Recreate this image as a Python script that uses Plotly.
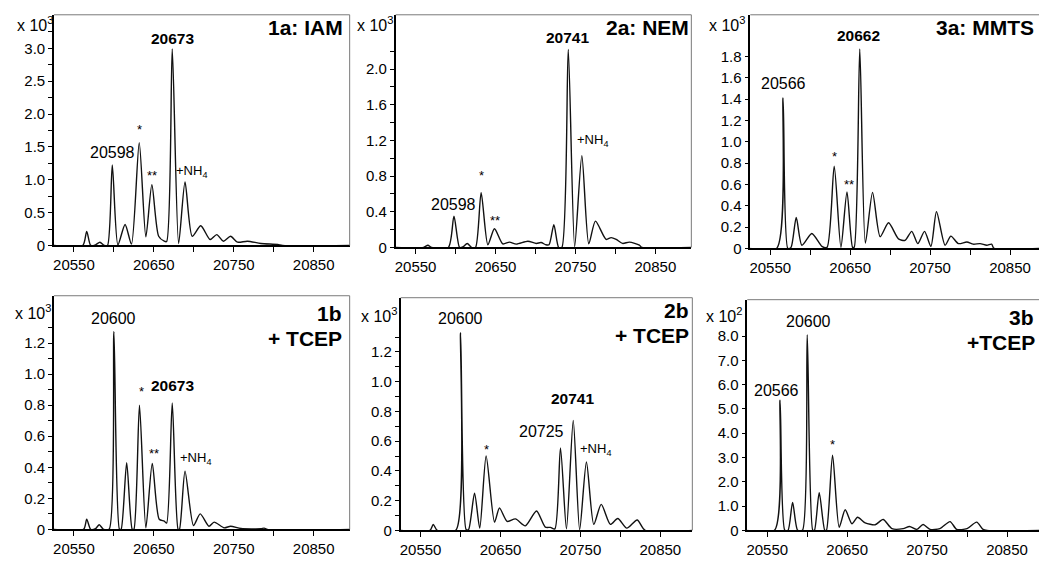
import plotly.graph_objects as go

W, H = 1039, 563
FONT = "Liberation Sans, Arial, sans-serif"

# ---------------------------------------------------------------- spectra
# deconvoluted mass (Da) and intensity (in units of the panel multiplier)
mass_1a = [20525, 20561, 20566, 20571, 20577, 20582.5, 20588, 20592, 20598, 20605,
           20614, 20622, 20631.7, 20640, 20647.5, 20656, 20663, 20666, 20673, 20681,
           20689, 20698, 20708.7, 20720.4, 20728.7, 20737, 20746, 20754.6, 20767,
           20784, 20805, 20811, 20895]
int_1a = [0, 0, 0.215, 0.0, 0.01, 0.05, 0.0, 0.0, 1.225, 0.01,
          0.32, 0.02, 1.565, 0.13, 0.925, 0.14, 0.065, 0.06, 2.99, 0.03,
          0.965, 0.14, 0.30, 0.09, 0.165, 0.065, 0.14, 0.05, 0.065,
          0.03, 0.015, 0.0, 0]

mass_2a = [20525, 20560, 20565.4, 20570, 20591, 20598, 20605, 20609, 20614.6, 20620,
           20625, 20632, 20640.4, 20648.7, 20659, 20667.5, 20676, 20690.4, 20701, 20707,
           20713, 20717, 20723, 20729, 20733, 20741, 20749, 20758, 20766.7, 20775,
           20788.4, 20794.6, 20801, 20809, 20817.5, 20830, 20833, 20895]
int_2a = [0, 0, 0.025, 0, 0, 0.35, 0, 0.005, 0.045, 0,
          0, 0.615, 0.03, 0.21, 0.04, 0.06, 0.037, 0.07, 0.045, 0.055,
          0.03, 0.03, 0.255, 0.0, 0.0, 2.22, 0.01, 1.03, 0.04, 0.295,
          0.09, 0.11, 0.09, 0.045, 0.06, 0.025, 0, 0]

mass_3a = [20525, 20558, 20566, 20572, 20576, 20582.5, 20589.6, 20602, 20614.6, 20621,
           20630, 20638.4, 20646, 20653, 20655, 20662, 20669, 20678, 20687.5, 20698,
           20710.4, 20718.7, 20727, 20734.6, 20743, 20751, 20758, 20768.7, 20776, 20785.4,
           20796, 20804, 20812.5, 20821, 20827, 20830, 20890]
int_3a = [0, 0, 1.41, 0, 0.01, 0.29, 0.03, 0.14, 0.02, 0.01,
          0.77, 0.01, 0.53, 0.01, 0.01, 1.87, 0.05, 0.525, 0.11, 0.24,
          0.09, 0.075, 0.16, 0.045, 0.16, 0.02, 0.345, 0.03, 0.115, 0.045,
          0.06, 0.04, 0.045, 0.03, 0.04, 0, 0]

mass_1b = [20525, 20562, 20566, 20571, 20577, 20581.7, 20587, 20594, 20600, 20607,
           20609, 20616, 20623, 20625, 20632, 20640, 20648, 20656.7, 20663, 20666,
           20673, 20680.4, 20682, 20689, 20699.6, 20708, 20719, 20725.4, 20738, 20746,
           20759, 20784, 20788, 20792, 20895]
int_1b = [0, 0, 0.065, 0, 0.005, 0.03, 0, 0, 1.275, 0,
          0, 0.43, 0, 0, 0.80, 0.01, 0.425, 0.065, 0.053, 0.04,
          0.815, 0, 0, 0.375, 0.025, 0.10, 0.02, 0.047, 0.01, 0.02,
          0.006, 0.004, 0.008, 0, 0]

mass_2b = [20525, 20561.7, 20565.8, 20570.8, 20594, 20600, 20607, 20610, 20617.5, 20624,
           20632, 20642.5, 20648.7, 20658.4, 20668.7, 20681, 20695, 20706, 20712.5, 20718,
           20725, 20732.5, 20741, 20749, 20757.5, 20766.7, 20776, 20787.5, 20796.7, 20808,
           20821, 20831, 20890]
int_2b = [0, 0, 0.04, 0, 0, 1.33, 0.005, 0.005, 0.25, 0.015,
          0.50, 0.055, 0.15, 0.06, 0.077, 0.03, 0.13, 0.022, 0.02, 0.01,
          0.555, 0.01, 0.74, 0.004, 0.46, 0.04, 0.175, 0.04, 0.08, 0.015,
          0.07, 0, 0]

mass_3b = [20525, 20559, 20566, 20572, 20576, 20581.7, 20588, 20594, 20600, 20607,
           20609, 20615, 20622, 20624, 20631.7, 20640, 20647.5, 20656, 20663, 20672.5,
           20685, 20695, 20706, 20720, 20728, 20737, 20745, 20753.7, 20766, 20778.7,
           20787, 20800, 20812, 20820, 20825, 20890]
int_3b = [0, 0, 5.36, 0, 0, 1.15, 0, 0, 8.06, 0,
          0, 1.55, 0, 0, 3.1, 0.13, 0.85, 0.27, 0.54, 0.31,
          0.23, 0.45, 0.07, 0.07, 0.16, 0.04, 0.24, 0.04, 0.07, 0.36,
          0.04, 0.07, 0.34, 0.04, 0, 0]

# ---------------------------------------------------------------- axis ticks
x_tick_vals = [20550, 20600, 20650, 20700, 20750, 20800, 20850, 20900]
x_tick_text = ["20550", "", "20650", "", "20750", "", "20850", ""]

y_major_1a = [0, 0.5, 1.0, 1.5, 2.0, 2.5, 3.0]
y_label_1a = ["0", "0.5", "1.0", "1.5", "2.0", "2.5", "3.0"]
y_minor_1a = [0.25, 0.75, 1.25, 1.75, 2.25, 2.75, 3.25]

y_major_2a = [0, 0.4, 0.8, 1.2, 1.6, 2.0]
y_label_2a = ["0", "0.4", "0.8", "1.2", "1.6", "2.0"]
y_minor_2a = [0.2, 0.6, 1.0, 1.4, 1.8, 2.2]

y_major_3a = [0, 0.2, 0.4, 0.6, 0.8, 1.0, 1.2, 1.4, 1.6, 1.8]
y_label_3a = ["0", "0.2", "0.4", "0.6", "0.8", "1.0", "1.2", "1.4", "1.6", "1.8"]
y_minor_3a = []

y_major_1b = [0, 0.2, 0.4, 0.6, 0.8, 1.0, 1.2]
y_label_1b = ["0", "0.2", "0.4", "0.6", "0.8", "1.0", "1.2"]
y_minor_1b = [0.1, 0.3, 0.5, 0.7, 0.9, 1.1, 1.3]

y_major_2b = [0, 0.2, 0.4, 0.6, 0.8, 1.0, 1.2]
y_label_2b = ["0", "0.2", "0.4", "0.6", "0.8", "1.0", "1.2"]
y_minor_2b = [0.1, 0.3, 0.5, 0.7, 0.9, 1.1, 1.3]

y_major_3b = [0, 1, 2, 3, 4, 5, 6, 7, 8]
y_label_3b = ["0", "1.0", "2.0", "3.0", "4.0", "5.0", "6.0", "7.0", "8.0"]
y_minor_3b = []

# ---------------------------------------------------------------- peak labels
# (text, x, y, bold)
marks_1a = [("20673", 20673, 3.15, True), ("20598", 20598, 1.41, False),
            ("*", 20631.7, 1.77, False), ("**", 20647.5, 1.065, False),
            ("+NH<sub>4</sub>", 20697.5, 1.12, False)]
marks_2a = [("20741", 20740, 2.35, True), ("20598", 20597, 0.486, False),
            ("*", 20632, 0.807, False), ("**", 20649, 0.30, False),
            ("+NH<sub>4</sub>", 20771, 1.20, False)]
marks_3a = [("20662", 20661, 2.0, True), ("20566", 20566, 1.55, False),
            ("*", 20630, 0.86, False), ("**", 20648, 0.60, False)]
marks_1b = [("20600", 20600, 1.36, False), ("*", 20634, 0.89, False),
            ("20673", 20673.4, 0.927, True), ("**", 20649.6, 0.49, False),
            ("+NH<sub>4</sub>", 20702.5, 0.454, False)]
marks_2b = [("20600", 20599.5, 1.424, False), ("*", 20632, 0.546, False),
            ("20741", 20740, 0.889, True), ("20725", 20701, 0.665, False),
            ("+NH<sub>4</sub>", 20769, 0.545, False)]
marks_3b = [("20600", 20601, 8.62, False), ("20566", 20562, 5.77, False),
            ("*", 20632, 3.55, False)]

# ---------------------------------------------------------------- panels
# box = (left, top, right, bottom) in pixels
panels = [
    dict(m=mass_1a, i=int_1a, box=(53, 15, 349, 249), xr=(20525, 20895), yr=(0, 3.51),
         maj=y_major_1a, lab=y_label_1a, mnr=y_minor_1a, marks=marks_1a,
         exp="3", exp_pos=(54, 24), right=True),
    dict(m=mass_2a, i=int_2a, box=(395, 15, 691, 251), xr=(20525, 20895), yr=(0, 2.61),
         maj=y_major_2a, lab=y_label_2a, mnr=y_minor_2a, marks=marks_2a,
         exp="3", exp_pos=(394, 24), right=True),
    dict(m=mass_3a, i=int_3a, box=(750, 15, 1039, 252), xr=(20525, 20886.25), yr=(0, 2.19),
         maj=y_major_3a, lab=y_label_3a, mnr=y_minor_3a, marks=marks_3a,
         exp="3", exp_pos=(747, 24), right=False),
    dict(m=mass_1b, i=int_1b, box=(53, 300, 349, 537), xr=(20525, 20895), yr=(0, 1.505),
         maj=y_major_1b, lab=y_label_1b, mnr=y_minor_1b, marks=marks_1b,
         exp="3", exp_pos=(52, 316), right=True),
    dict(m=mass_2b, i=int_2b, box=(400, 302, 692, 538), xr=(20525, 20890), yr=(0, 1.565),
         maj=y_major_2b, lab=y_label_2b, mnr=y_minor_2b, marks=marks_2b,
         exp="3", exp_pos=(398, 320), right=True),
    dict(m=mass_3b, i=int_3b, box=(747, 304, 1039, 538), xr=(20525, 20890), yr=(0, 9.5),
         maj=y_major_3b, lab=y_label_3b, mnr=y_minor_3b, marks=marks_3b,
         exp="2", exp_pos=(744, 320), right=False),
]

# panel titles: (text, anchor px x, px y, xanchor)
titles = [
    ("1a: IAM", 344, 28, "right"),
    ("2a: NEM", 691, 28, "right"),
    ("3a: MMTS", 1036, 28, "right"),
    ("1b", 343, 318, "right"),
    ("+ TCEP", 343, 343, "right"),
    ("2b", 691, 315, "right"),
    ("+ TCEP", 691, 340, "right"),
    ("3b", 1036, 322, "right"),
    ("+TCEP", 1037, 347, "right"),
]


def fx(p):
    return p / W


def fy(p):
    return 1 - p / H


fig = go.Figure()
layout = dict(width=W, height=H, margin=dict(l=0, r=0, t=0, b=0),
              paper_bgcolor="white", plot_bgcolor="white", showlegend=False,
              font=dict(family=FONT, color="black"))
annotations = []
shapes = []

for k, p in enumerate(panels, start=1):
    sfx = "" if k == 1 else str(k)
    xa, ya = "x" + sfx, "y" + sfx
    l, t, r, b = p["box"]
    fig.add_trace(go.Scatter(x=p["m"], y=p["i"], mode="lines", xaxis=xa, yaxis=ya,
                             line=dict(color="#111111", width=1.4, shape="spline",
                                       smoothing=0.7),
                             hoverinfo="skip"))
    layout["xaxis" + sfx] = dict(
        domain=[fx(l), fx(r)], range=list(p["xr"]), anchor=ya,
        showline=True, linecolor="black", linewidth=2, showgrid=False, zeroline=False,
        ticks="outside", ticklen=5, tickwidth=1, tickcolor="black",
        tickmode="array", tickvals=x_tick_vals, ticktext=x_tick_text,
        tickfont=dict(family=FONT, size=15, color="black"))
    layout["yaxis" + sfx] = dict(
        domain=[fy(b), fy(t)], range=list(p["yr"]), anchor=xa,
        showline=True, linecolor="black", linewidth=1.5, showgrid=False, zeroline=False,
        ticks="outside", ticklen=4, tickwidth=1, tickcolor="black",
        tickmode="array", tickvals=p["maj"] + p["mnr"],
        ticktext=p["lab"] + [""] * len(p["mnr"]),
        tickfont=dict(family=FONT, size=15, color="black"))
    # grey top / right frame
    rr = fx(r) if p["right"] else 1.0
    shapes.append(dict(type="line", xref="paper", yref="paper", x0=fx(l), x1=rr,
                       y0=fy(t), y1=fy(t), line=dict(color="#7a7a7a", width=1)))
    if p["right"]:
        shapes.append(dict(type="line", xref="paper", yref="paper", x0=fx(r), x1=fx(r),
                           y0=fy(t), y1=fy(b), line=dict(color="#7a7a7a", width=1)))
    # intensity multiplier
    ex, ey = p["exp_pos"]
    annotations.append(dict(text="x 10<sup>%s</sup>" % p["exp"], xref="paper", yref="paper",
                            x=fx(ex), y=fy(ey), xanchor="right", yanchor="middle",
                            showarrow=False, font=dict(family=FONT, size=16, color="black")))
    # peak labels
    for text, mx, my, bold in p["marks"]:
        if text.startswith("*") or text.startswith("+"):
            size = 13
        elif bold:
            size = 15.5
        else:
            size = 16
        annotations.append(dict(text=("<b>%s</b>" % text) if bold else text,
                                xref=xa, yref=ya, x=mx, y=my,
                                xanchor="center", yanchor="middle", showarrow=False,
                                font=dict(family=FONT, size=size, color="black")))

for text, tx, ty, anc in titles:
    annotations.append(dict(text="<b>%s</b>" % text, xref="paper", yref="paper",
                            x=fx(tx), y=fy(ty), xanchor=anc, yanchor="middle",
                            showarrow=False, font=dict(family=FONT, size=21, color="black")))

layout["annotations"] = annotations
layout["shapes"] = shapes
fig.update_layout(**layout)
fig.write_html("out.html")
